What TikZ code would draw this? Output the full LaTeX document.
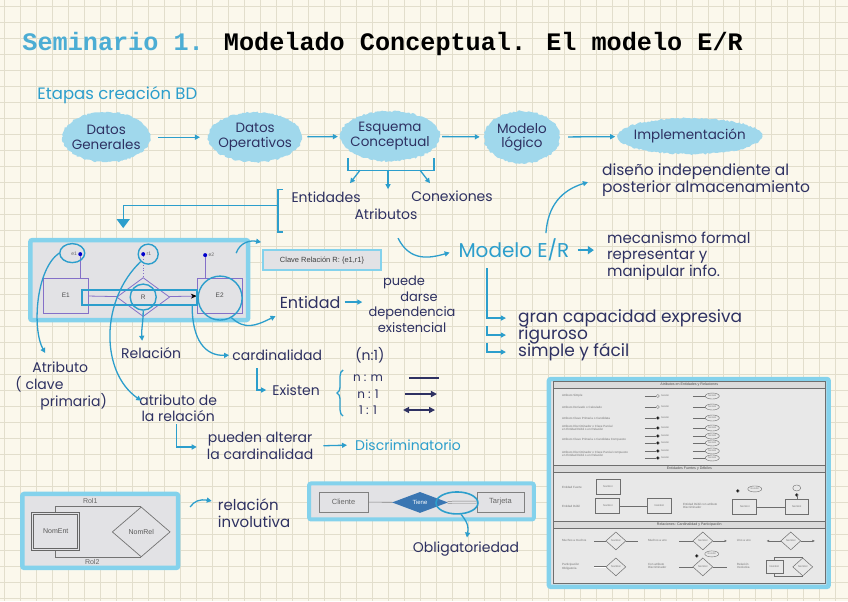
\documentclass[tikz,border=0pt]{standalone}
\usepackage{fontspec}
\setmainfont{Poppins}
\newfontfamily\titlefont{Liberation Mono}
\newfontfamily\shotfont{Liberation Sans}
\usetikzlibrary{arrows.meta, positioning, calc, shapes.geometric, decorations.pathmorphing, decorations.pathreplacing}
\definecolor{paperBg}{RGB}{251,248,236}
\definecolor{gridLn}{RGB}{226,222,204}
\definecolor{inkBlue}{RGB}{44,158,204}
\definecolor{inkDark}{RGB}{46,49,98}
\definecolor{cloudFill}{RGB}{160,216,236}
\definecolor{frameBlue}{RGB}{132,210,236}
\definecolor{shotGray}{RGB}{226,226,229}
\definecolor{erLine}{RGB}{132,112,200}
\definecolor{sheetLn}{RGB}{110,110,110}
\definecolor{tieneFill}{RGB}{58,118,178}

\begin{document}
\begin{tikzpicture}[x=1pt, y=-1pt,
        cloudnode/.style={ellipse, fill=cloudFill, decorate, decoration={random steps, segment length=2pt, amplitude=0.9pt}, align=center, font=\fontsize{13.5}{14.5}\selectfont, text=inkDark, inner xsep=-8pt, inner ysep=-2pt},
        hand/.style={font=\fontsize{14}{16}\selectfont, text=inkDark, inner sep=0pt, align=center},
        handblue/.style={hand, text=inkBlue},
        arr/.style={-{Triangle[length=5pt, width=5pt]}, line width=1.3pt, inkBlue},
        hline/.style={line width=1.3pt, inkBlue},
        ringnode/.style={draw=inkBlue, line width=1.4pt, inner sep=0pt},
        shotframe/.style={rectangle, fill=shotGray, draw=frameBlue, line width=4.5pt, rounded corners=2pt},
        erbox/.style={rectangle, draw=erLine, line width=0.8pt, font=\shotfont\fontsize{6.5}{7}\selectfont, text=black!70, inner sep=0pt},
        erdia/.style={diamond, draw=erLine, line width=0.8pt, inner sep=0pt, aspect=1.35, font=\shotfont\fontsize{6.5}{7}\selectfont, text=black!70},
        attdot/.style={circle, fill=blue!80!black, inner sep=0pt, minimum size=4pt},
        shotlbl/.style={font=\shotfont\fontsize{5}{5}\selectfont, text=black!60, inner sep=0.5pt},
        sheettxt/.style={font=\shotfont\fontsize{3}{3.6}\selectfont, text=black!55, inner sep=0pt, align=left, anchor=west},
        sheetbox/.style={rectangle, draw=sheetLn, line width=0.5pt, minimum width=24pt, minimum height=15pt, inner sep=0pt, font=\shotfont\fontsize{2.6}{3}\selectfont, text=black!55},
        weakbox/.style={sheetbox, line width=0.9pt},
        sheetdia/.style={diamond, draw=sheetLn, line width=0.5pt, aspect=1.1, minimum width=20pt, minimum height=18pt, inner sep=0pt, font=\shotfont\fontsize{2.6}{3}\selectfont, text=black!55},
        sheetatt/.style={ellipse, draw=sheetLn, line width=0.4pt, minimum width=14pt, minimum height=6pt, inner sep=0pt, font=\shotfont\fontsize{2.4}{3}\selectfont, text=black!55},
        sheethead/.style={rectangle, fill=black!14, draw=sheetLn, line width=0.4pt, minimum width=272pt, minimum height=7pt, inner sep=0pt, font=\shotfont\fontsize{3.6}{4}\selectfont, text=black!70},
        sline/.style={sheetLn, line width=0.45pt},
    ]
    % paper and grid
    \fill[paperBg] (0,0) rectangle (848,601);
    \foreach \gx in {4,20,...,848} \draw[gridLn, line width=0.6pt] (\gx,0) -- (\gx,601);
    \foreach \gy in {6,22,...,601} \draw[gridLn, line width=0.6pt] (0,\gy) -- (848,\gy);
    \useasboundingbox (0,0) rectangle (848,601);

    \node[anchor=west, inner sep=0pt, font=\titlefont\bfseries\fontsize{25.2}{26}\selectfont] (title) at (22,44) {\textcolor{inkBlue!85}{Seminario 1.} Modelado Conceptual. El modelo E/R};

    % etapas
    \node[handblue, anchor=west, font=\fontsize{16.5}{17}\selectfont] (etapas) at (37,95) {Etapas creación BD};
    \node[cloudnode, minimum width=88pt, minimum height=50pt] (datgen) at (106,137) {Datos\\Generales};
    \node[cloudnode, minimum width=94pt, minimum height=50pt] (datop) at (255,137) {Datos\\Operativos};
    \node[cloudnode, minimum width=100pt, minimum height=50pt] (esquema) at (390,136) {Esquema\\Conceptual};
    \node[cloudnode, minimum width=76pt, minimum height=52pt] (logico) at (522,137) {Modelo\\lógico};
    \node[cloudnode, minimum width=145pt, minimum height=36pt] (impl) at (690,136) {Implementación};
    \draw[arr, shorten <=8pt, shorten >=8pt] (datgen) -- (datop);
    \draw[arr, shorten <=5pt, shorten >=2pt] (datop) -- (esquema);
    \draw[arr, shorten <=2pt, shorten >=4pt] (esquema) -- (logico);
    \draw[arr, shorten <=8pt, shorten >=2pt] (logico) -- (impl);

    % esquema conceptual
    \coordinate (esqL) at (348,158);
    \coordinate (esqR) at (434,158);
    \draw[hline] (esqL) -- ++(0,12) -| (esqR);
    \node[hand] (entid) at (326,197) {Entidades};
    \node[hand] (atrib) at (386,214) {Atributos};
    \node[hand] (conex) at (452,196) {Conexiones};
    \coordinate (brA) at (360,170);
    \coordinate (brB) at (388,170);
    \coordinate (brC) at (420,170);
    \draw[arr] (brA) -- ++(-10,13);
    \draw[arr] (brB) -- ++(0,19);
    \draw[arr] (brC) -- ++(10,13);
    \coordinate (lbT) at (283,189);
    \coordinate (lbB) at (283,232);
    \coordinate (lbM) at (278,205);
    \coordinate (erTop) at (123,228);
    \draw[hline] (lbT) -- ++(-5,0) -- ++(0,43) -- (lbB);
    \draw[hline, -{Triangle[length=9pt, width=13pt]}] (lbM) -| (erTop);

    % modelo E/R
    \node[handblue, font=\fontsize{20}{21}\selectfont] (modelo) at (514,250) {Modelo E/R};
    \coordinate (crvA) at (398,238);
    \draw[arr, shorten >=9pt] (crvA) .. controls (410,262) and (430,258) .. (modelo.west);
    \node[hand, align=left, anchor=west, font=\fontsize{15}{16.5}\selectfont] (mecan) at (607,256) {mecanismo formal\\representar y\\manipular info.};
    \draw[-{Triangle[length=6pt, width=8pt]}, line width=2.6pt, inkBlue, shorten <=8pt, shorten >=13pt] (modelo.east) -- (modelo.east -| mecan.west);
    \node[hand, align=left, anchor=west, font=\fontsize{15.5}{16.5}\selectfont] (diseno) at (602,180) {diseño independiente al\\posterior almacenamiento};
    \coordinate (mup) at (546,233);
    \draw[arr] (mup) .. controls (548,205) and (562,190) .. ($(diseno.west)+(-14,2)$);
    \node[hand, anchor=west, font=\fontsize{17}{17}\selectfont] (gran) at (518,318) {gran capacidad expresiva};
    \node[hand, anchor=west, font=\fontsize{17}{17}\selectfont] (rigur) at (518,335) {riguroso};
    \node[hand, anchor=west, font=\fontsize{17}{17}\selectfont] (simple) at (518,352) {simple y fácil};
    \coordinate (hkA) at (487,268);
    \coordinate (hkB) at (487,326);
    \coordinate (hkC) at (487,343);
    \draw[arr] (hkA) |- ($(gran.west)+(-12,0)$);
    \draw[arr] (hkB) |- ($(rigur.west)+(-12,0)$);
    \draw[arr] (hkC) |- ($(simple.west)+(-12,0)$);

    % captura E1 - R - E2
    \node[shotframe, minimum width=218pt, minimum height=80pt] (erbox) at (139,280) {};
    \node[erbox, minimum width=45pt, minimum height=35pt] (eOne) at (65.5,295.5) {E1};
    \node[erdia, minimum width=53pt, minimum height=39pt] (rel) at (143,297) {R};
    \node[erbox, minimum width=45pt, minimum height=35pt] (eTwo) at (219.5,295.5) {E2};
    \draw[erLine, line width=0.8pt] (eOne) -- (rel);
    \draw[erLine, line width=0.8pt, -{Stealth[length=6pt, width=5pt, black]}] (rel) -- (eTwo);
    \node[draw=inkBlue, line width=1.6pt, minimum width=115pt, minimum height=15pt, inner sep=0pt] (link) at (139.5,297.5) {};
    \node[attdot] (dE1) at (80,254) {};
    \node[shotlbl, left=0.5pt of dE1] (lE1) {e1};
    \draw[erLine, line width=0.8pt] (dE1) -- (eOne.north -| dE1);
    \node[attdot] (dR1) at (143,254) {};
    \node[shotlbl, right=0.5pt of dR1] (lR1) {r1};
    \draw[erLine, line width=0.8pt, dotted] (dR1) -- (rel.north);
    \node[attdot] (dE2) at (205,255) {};
    \node[shotlbl, right=0.5pt of dE2] (lE2) {e2};
    \draw[erLine, line width=0.8pt] (dE2) -- (eTwo.north -| dE2);
    \node[ringnode, ellipse, minimum width=25pt, minimum height=19pt] (rgE1) at (72,253) {};
    \node[ringnode, circle, minimum size=20pt] (rgR1) at (148,254) {};
    \node[ringnode, circle, minimum size=26pt] (rgR) at (143,297) {};
    \node[ringnode, circle, minimum size=44pt] (rgE2) at (220,298) {};

    % anotaciones de la captura
    \node[hand, align=left, anchor=north west, font=\fontsize{14}{17}\selectfont] (atrClave) at (15,362) {\hspace*{17pt}Atributo\\( clave\\\hspace*{25pt}primaria)};
    \draw[arr] (rgE1.west) .. controls (35,270) and (32,330) .. ($(atrClave.north west)+(30,-9)$);
    \node[hand, font=\fontsize{14}{15.5}\selectfont] (atrRel) at (178,408) {atributo de\\la relación};
    \draw[arr] (rgR1.south west) .. controls (100,300) and (100,372) .. ($(atrRel.north west)+(2,6)$);
    \node[hand] (relac) at (151,353) {Relación};
    \draw[arr] (rgR.south) .. controls (143,322) and (141,330) .. ($(rgR.south)+(-1,30)$);
    \node[hand, anchor=west] (cardin) at (232,355) {cardinalidad};
    \node[hand, anchor=west] (nUno) at (355,355) {(n:1)};
    \coordinate (linkEnd) at (192,306);
    \draw[arr, shorten >=3pt] (linkEnd) .. controls (192,340) and (205,356) .. (cardin.west);
    \node[hand, font=\fontsize{16}{17}\selectfont] (entidad) at (310,302) {Entidad};
    \draw[arr] (rgE2.-60) .. controls (245,330) and (255,326) .. ($(entidad.west)+(-4,14)$);
    \node[rectangle, fill=shotGray, draw=frameBlue, line width=2pt, minimum width=118pt, minimum height=20pt, font=\shotfont\fontsize{7.5}{8}\selectfont, text=black!75] (clave) at (322,260) {Clave Relación R: \{e1,r1\}};
    \coordinate (boxTR) at (236,253);
    \draw[arr] (boxTR) .. controls (240,242) and (250,240) .. ($(clave.north west)+(-1,-7)$);
    \node[hand, font=\fontsize{13}{15.5}\selectfont] (puede) at (412,304) {puede\hspace*{16pt}\\\hspace*{14pt}darse\\dependencia\\existencial};
    \draw[arr, shorten <=4pt, shorten >=6pt] (entidad.east) -- (entidad.east -| puede.west);

    % cardinalidades
    \coordinate (hkCard) at (257,368);
    \node[hand] (existen) at (296,390) {Existen};
    \draw[arr] (hkCard) |- ($(existen.west)+(-6,0)$);
    \coordinate (brTop) at (343,370);
    \coordinate (brBot) at (343,416);
    \draw[decorate, decoration={brace, amplitude=6pt}, inkBlue, line width=1.3pt] (brBot) -- (brTop);
    \node[hand, font=\fontsize{12}{13}\selectfont] (nm) at (368,378) {n : m};
    \node[hand, font=\fontsize{12}{13}\selectfont] (nOne) at (368,394) {n : 1};
    \node[hand, font=\fontsize{12}{13}\selectfont] (oneOne) at (368,410) {1 : 1};
    \draw[line width=1.5pt, inkDark] ($(nm.east)+(26,0)$) -- ++(30,0);
    \draw[line width=1.5pt, inkDark, -{Triangle[length=6pt, width=6pt]}] ($(nOne.east)+(26,0)$) -- ++(32,0);
    \draw[line width=1.5pt, inkDark, {Triangle[length=6pt, width=6pt]}-{Triangle[length=6pt, width=6pt]}] ($(oneOne.east)+(26,0)$) -- ++(32,0);

    % atributo de la relacion
    \coordinate (hkAtr) at (176,424);
    \node[hand, font=\fontsize{14}{16.5}\selectfont] (alterar) at (260,446) {pueden alterar\\la cardinalidad};
    \draw[arr] (hkAtr) |- ($(alterar.west)+(-10,1)$);
    \node[handblue] (discrim) at (408,445) {Discriminatorio};
    \draw[arr, shorten <=10pt, shorten >=8pt] (alterar.east) -- (discrim.west);

    % relacion involutiva
    \node[shotframe, minimum width=156pt, minimum height=74pt] (invBox) at (100,531) {};
    \node[rectangle, draw=black!60, line width=1.1pt, minimum width=48pt, minimum height=38pt, font=\shotfont\fontsize{7}{7}\selectfont, text=black!65] (nomEnt) at (55.5,531.5) {NomEnt};
    \draw[black!60, line width=0.6pt] ($(nomEnt.south west)+(2.5,-2.5)$) rectangle ($(nomEnt.north east)+(-2.5,2.5)$);
    \node[diamond, draw=black!55, line width=0.7pt, aspect=1.15, minimum width=58pt, minimum height=50pt, inner sep=0pt, font=\shotfont\fontsize{7}{7}\selectfont, text=black!65] (nomRel) at (141,532) {NomRel};
    \draw[black!55, line width=0.6pt] (nomEnt.north) |- (nomRel.north);
    \draw[black!55, line width=0.6pt] (nomEnt.south) |- (nomRel.south);
    \node[shotlbl, font=\shotfont\fontsize{7}{7}\selectfont] (rolA) at (90,501) {Rol1};
    \node[shotlbl, font=\shotfont\fontsize{7}{7}\selectfont] (rolB) at (92,562) {Rol2};
    \node[hand, align=left, font=\fontsize{15}{17}\selectfont] (invol) at (254,513) {relación\\involutiva};
    \coordinate (invTip) at (190,507);
    \draw[arr] (invTip) .. controls (194,501) and (200,499) .. ($(invol.west)+(-6,-12)$);

    % cliente - tiene - tarjeta
    \node[shotframe, line width=4pt, minimum width=225pt, minimum height=36pt] (cliBox) at (421.5,501.5) {};
    \node[rectangle, draw=black!50, line width=0.7pt, minimum width=49pt, minimum height=20pt, font=\shotfont\fontsize{7.5}{8}\selectfont, text=black!60] (cliente) at (343.5,502) {Cliente};
    \node[diamond, fill=tieneFill, aspect=2.6, minimum width=56pt, minimum height=21pt, inner sep=0pt, text=white, font=\shotfont\fontsize{6}{6}\selectfont] (tiene) at (420,502.5) {Tiene};
    \node[rectangle, draw=black!50, line width=0.7pt, minimum width=47pt, minimum height=20pt, font=\shotfont\fontsize{7.5}{8}\selectfont, text=black!60] (tarjeta) at (500.5,502) {Tarjeta};
    \draw[black!50, line width=0.6pt] (cliente) -- (tiene);
    \draw[black!50, line width=0.5pt, double=shotGray, double distance=1.5pt] (tiene) -- (tarjeta);
    \node[ringnode, ellipse, line width=1.6pt, minimum width=42pt, minimum height=22pt] (rgObl) at (457,503) {};
    \node[hand] (oblig) at (466,549) {Obligatoriedad};
    \draw[arr] (rgObl.-70) .. controls (470,525) and (468,530) .. ($(oblig.north)+(1,-4)$);

    % chuleta de notacion
    \node[shotframe, minimum width=280pt, minimum height=208pt] (sheet) at (689,483) {};
    \node[rectangle, fill=black!9, draw=sheetLn, line width=0.7pt, minimum width=272pt, minimum height=202pt] (panel) at (689.5,482.5) {};
    \node[sheethead] (hdA) at (689.5,385) {Atributos en Entidades y Relaciones};
    \node[sheethead] (hdB) at (689.5,469) {Entidades Fuertes y Débiles};
    \node[sheethead] (hdC) at (689.5,524.5) {Relaciones: Cardinalidad y Participación};
    \node[sheettxt] (saA) at (562,396) {Atributo Simple};
    \node[sheettxt] (saB) at (562,407) {Atributo Derivado o Calculado};
    \node[sheettxt] (saC) at (562,418) {Atributo Clave Primaria o Candidata};
    \node[sheettxt] (saD) at (562,428) {Atributo Discriminador o Clave Parcial\\en Entidad Débil o en Relación};
    \node[sheettxt] (saE) at (562,440) {Atributo Clave Primaria o Candidata Compuesto};
    \node[sheettxt] (saF) at (562,454) {Atributo Discriminador o Clave Parcial compuesto\\en Entidad Débil o en Relación};
    \foreach \yy/\ff in {396/white, 407/white, 418/black, 428/black, 436/black, 443/black, 451/black, 458/black} {
        \draw[sline] (645,\yy) -- (656,\yy);
        \filldraw[sline, fill=\ff] (658,\yy) circle [radius=1.5];
        \node[sheettxt, font=\shotfont\fontsize{2.4}{3}\selectfont] at (661,\yy) {NomAtr};
        \draw[sline] (693,\yy) -- (705,\yy);
        \node[sheetatt] at (712.5,\yy) {NomAtr};
    }
    % entidades
    \node[sheettxt] (seA) at (562,487) {Entidad Fuerte};
    \node[sheetbox] (sbF) at (608,487) {NomEnt};
    \node[sheettxt] (seB) at (562,506) {Entidad Débil};
    \node[weakbox] (sbD) at (608,506) {NomEnt};
    \node[sheetbox] (sbFb) at (659.5,506) {NomEnt};
    \draw[sline] (sbD) -- (sbFb);
    \node[sheettxt] (seC) at (683,506) {Entidad Débil con atributo\\Discriminador};
    \node[weakbox] (sbDb) at (745,507) {NomEnt};
    \node[sheetbox] (sbFc) at (797,507) {NomEnt};
    \draw[sline] (sbDb) -- (sbFc);
    \node[sheetatt] (attD) at (755,489) {NomAtr};
    \filldraw[sline, fill=black] (738,491) circle [radius=1.5];
    \node[sheetatt, minimum width=8pt] (attF) at (797,488) {};
    \filldraw[sline, fill=black] (797,495) circle [radius=1.5];
    \draw[sline] (797,495) -- (sbFc.north);
    % relaciones
    \node[sheettxt] (srA) at (562,541) {Muchos a muchos};
    \node[sheetdia] (sdA) at (616,541) {NomRel};
    \draw[sline] (sdA.west) -- ++(-12,0);
    \draw[sline] (sdA.east) -- ++(12,0);
    \node[sheettxt] (srB) at (648,541) {Muchos a uno};
    \node[sheetdia] (sdB) at (703,541) {NomRel};
    \draw[sline] (sdB.west) -- ++(-14,0);
    \draw[sline, -{Latex[length=2.5pt, width=2.5pt]}] (sdB.east) -- ++(14,0);
    \node[sheettxt] (srC) at (737,541) {Uno a uno};
    \node[sheetdia] (sdC) at (791,541) {NomRel};
    \draw[sline, -{Latex[length=2.5pt, width=2.5pt]}] (sdC.west) -- ++(-14,0);
    \draw[sline, -{Latex[length=2.5pt, width=2.5pt]}] (sdC.east) -- ++(14,0);
    \node[sheettxt] (srD) at (562,567) {Participación\\Obligatoria};
    \node[sheetdia] (sdD) at (616,567) {NomRel};
    \draw[sline, double, double distance=0.6pt] (sdD.west) -- ++(-12,0);
    \node[sheettxt] (srE) at (648,566) {Con atributo\\Discriminador};
    \node[sheetdia] (sdE) at (703,567) {NomRel};
    \draw[sline] (sdE.west) -- ++(-14,0);
    \draw[sline] (sdE.east) -- ++(14,0);
    \node[sheetatt] (attE) at (712,554) {NomAtr};
    \filldraw[sline, fill=black] (697,556) circle [radius=1.5];
    \node[sheettxt] (srF) at (737,566) {Relación\\Involutiva};
    \node[sheetbox, minimum width=17pt, minimum height=13pt] (sbI) at (774.5,567) {NomEnt};
    \node[sheetdia] (sdF) at (803,567) {NomRel};
    \draw[sline] (sbI.north) |- (sdF.north);
    \draw[sline] (sbI.south) |- (sdF.south);
\end{tikzpicture}
\end{document}
